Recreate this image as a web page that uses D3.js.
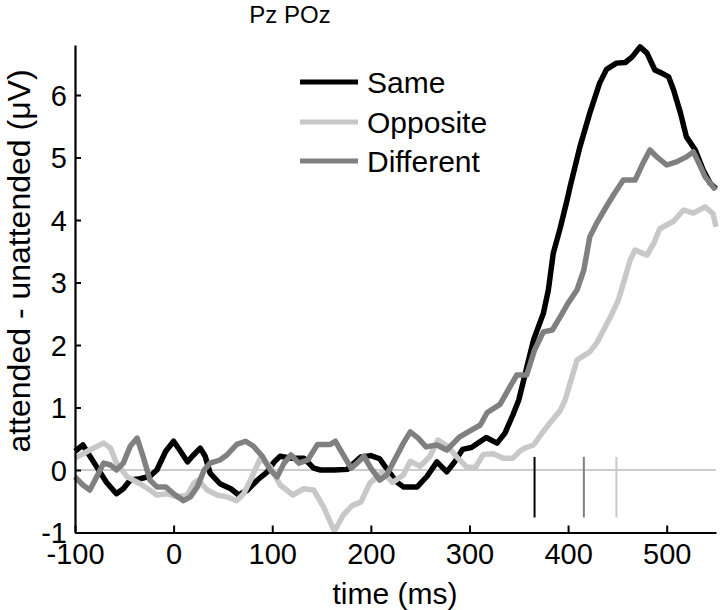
<!DOCTYPE html>
<html>
<head>
<meta charset="utf-8">
<script src="https://cdn.jsdelivr.net/npm/d3@7"></script>
<style>
  body { margin: 0; background: #fff; }
  svg { display: block; font-family: "Liberation Sans", Arial, sans-serif; }
</style>
</head>
<body>
<svg id="chart" width="720" height="610"></svg>
<script>
// ---- data ----
const seriesNames = ["Same", "Opposite", "Different"];
const seriesColors = ["#000000", "#c8c8c8", "#808080"];

const sameT = [-100,-92,-78,-68,-58,-51,-44,-34,-24,-17,-8,0,7,14,19,27,32,37,47,58,66,75,85,95,102,108,119,132,142,149,163,176,190,200,209,216,226,233,247,257,267,277,285,293,302,317,328,336,344,350,355,365,375,380,385,392,399,402,412,422,432,439,449,458,465,473,480,488,495,502,507,514,520,529,537,544,550];
const sameV = [0.30,0.40,0.05,-0.20,-0.38,-0.30,-0.16,-0.14,-0.10,0.00,0.30,0.46,0.30,0.13,0.22,0.35,0.22,-0.05,-0.22,-0.30,-0.40,-0.32,-0.16,-0.03,0.13,0.22,0.19,0.19,0.03,0.00,0.00,0.01,0.21,0.23,0.18,0.02,-0.19,-0.27,-0.27,-0.10,0.13,-0.03,0.13,0.33,0.36,0.52,0.43,0.59,0.88,1.12,1.44,2.08,2.51,2.88,3.47,3.87,4.32,4.53,5.17,5.71,6.19,6.41,6.51,6.52,6.61,6.77,6.67,6.40,6.35,6.29,6.08,5.71,5.33,5.12,4.80,4.59,4.50];

const oppT = [-100,-85,-71,-64,-58,-47,-34,-24,-17,-7,3,14,20,25,34,44,54,64,71,78,88,98,108,121,132,142,152,163,172,181,190,199,212,222,233,240,250,260,268,278,287,297,306,314,324,334,344,351,356,365,375,382,392,397,404,409,412,422,429,436,443,451,458,463,468,475,480,487,493,500,507,517,527,539,547,550];
const oppV = [0.19,0.32,0.43,0.35,0.11,-0.11,-0.22,-0.32,-0.40,-0.38,-0.43,-0.40,-0.22,-0.16,-0.32,-0.40,-0.43,-0.49,-0.38,-0.16,0.19,0.05,-0.24,-0.40,-0.30,-0.32,-0.59,-0.98,-0.72,-0.57,-0.51,-0.21,-0.03,-0.20,-0.08,0.14,0.06,0.22,0.48,0.38,0.21,0.05,0.04,0.25,0.26,0.19,0.19,0.30,0.35,0.40,0.62,0.76,0.95,1.12,1.49,1.76,1.79,1.89,2.03,2.24,2.45,2.72,3.09,3.36,3.52,3.47,3.44,3.63,3.86,3.92,3.98,4.16,4.11,4.21,4.10,3.89];

const diffT = [-100,-92,-85,-78,-71,-64,-58,-51,-44,-37,-31,-24,-17,-8,0,10,17,24,31,37,47,54,64,73,81,90,98,105,112,119,127,136,146,159,164,171,180,186,193,200,209,216,223,233,240,248,256,267,277,290,301,311,318,331,341,348,358,366,375,384,392,400,409,416,422,429,439,446,456,468,476,483,490,500,510,520,527,532,539,548,550];
const diffV = [-0.11,-0.24,-0.32,-0.11,0.11,0.08,0.00,0.11,0.38,0.51,0.22,-0.16,-0.27,-0.27,-0.38,-0.49,-0.43,-0.27,0.00,0.11,0.16,0.24,0.41,0.46,0.38,0.22,0.00,-0.11,0.11,0.24,0.11,0.16,0.41,0.41,0.46,0.27,0.03,0.11,0.22,0.03,-0.16,-0.08,0.13,0.43,0.61,0.51,0.37,0.40,0.32,0.53,0.63,0.72,0.92,1.05,1.33,1.52,1.52,1.92,2.21,2.24,2.45,2.67,2.88,3.20,3.73,3.95,4.22,4.40,4.64,4.64,4.91,5.12,5.01,4.88,4.93,5.01,5.09,4.93,4.69,4.51,4.54];

// onset markers (ms) for Same, Different, Opposite
const onsetTimes = [366, 416, 449];
const onsetColors = ["#000000", "#808080", "#c8c8c8"];
const onsetRange = [-0.76, 0.21];

const xTicks = [-100, 0, 100, 200, 300, 400, 500];
const yTicks = [-1, 0, 1, 2, 3, 4, 5, 6];

// ---- layout ----
const svg = d3.select("#chart");
const x = d3.scaleLinear().domain([-100, 550]).range([75, 716]);
const y = d3.scaleLinear().domain([-1, 6.8]).range([532.5, 45]);
const fmt = d => String(d); // plain hyphen-minus, as in the reference

// zero line
svg.append("line")
  .attr("x1", x(-100)).attr("x2", x(550))
  .attr("y1", y(0)).attr("y2", y(0))
  .attr("stroke", "#999").attr("stroke-width", 1);

// onset markers
onsetTimes.forEach((t, i) => {
  svg.append("line")
    .attr("x1", x(t)).attr("x2", x(t))
    .attr("y1", y(onsetRange[0])).attr("y2", y(onsetRange[1]))
    .attr("stroke", onsetColors[i]).attr("stroke-width", 2);
});

// series
const line = d3.line().x(d => x(d[0])).y(d => y(d[1]));
const series = [
  sameT.map((t, i) => [t, sameV[i]]),
  oppT.map((t, i) => [t, oppV[i]]),
  diffT.map((t, i) => [t, diffV[i]])
];
series.forEach((s, i) => {
  svg.append("path")
    .datum(s)
    .attr("d", line)
    .attr("fill", "none")
    .attr("stroke", seriesColors[i])
    .attr("stroke-width", 5.5)
    .attr("stroke-linejoin", "round");
});

// axes
const xAxis = svg.append("g")
  .attr("transform", `translate(0,${y(-1)})`)
  .call(d3.axisBottom(x).tickValues(xTicks).tickFormat(fmt).tickSizeInner(-7).tickSizeOuter(0).tickPadding(11));
const yAxis = svg.append("g")
  .attr("transform", `translate(${x(-100)},0)`)
  .call(d3.axisLeft(y).tickValues(yTicks).tickFormat(fmt).tickSizeInner(-6).tickSizeOuter(0).tickPadding(8));

[xAxis, yAxis].forEach(g => {
  g.select(".domain").attr("stroke", "#000").attr("stroke-width", 2.2);
  g.selectAll(".tick line").attr("stroke", "#000").attr("stroke-width", 2);
  g.selectAll(".tick text")
    .attr("fill", "#000")
    .style("font-family", "'Liberation Sans', Arial, sans-serif")
    .style("font-size", "29px");
});
xAxis.selectAll(".tick text").attr("dy", "0.71em");
yAxis.selectAll(".tick text").attr("dy", "0.36em");

// title
svg.append("text")
  .attr("x", 290).attr("y", 23)
  .attr("text-anchor", "middle")
  .style("font-size", "24px")
  .text("Pz POz");

// x label
svg.append("text")
  .attr("x", 395).attr("y", 604)
  .attr("text-anchor", "middle")
  .style("font-size", "30px")
  .text("time (ms)");

// y label
svg.append("text")
  .attr("transform", "translate(30,261) rotate(-90)")
  .attr("text-anchor", "middle")
  .style("font-size", "32px")
  .text("attended - unattended (\u03BCV)");

// legend
const legendY = [82, 122, 161];
seriesNames.forEach((name, i) => {
  svg.append("line")
    .attr("x1", 300).attr("x2", 358)
    .attr("y1", legendY[i]).attr("y2", legendY[i])
    .attr("stroke", seriesColors[i]).attr("stroke-width", 5);
  svg.append("text")
    .attr("x", 367).attr("y", legendY[i])
    .attr("dy", "0.35em")
    .style("font-size", "30px")
    .text(name);
});
</script>
</body>
</html>
